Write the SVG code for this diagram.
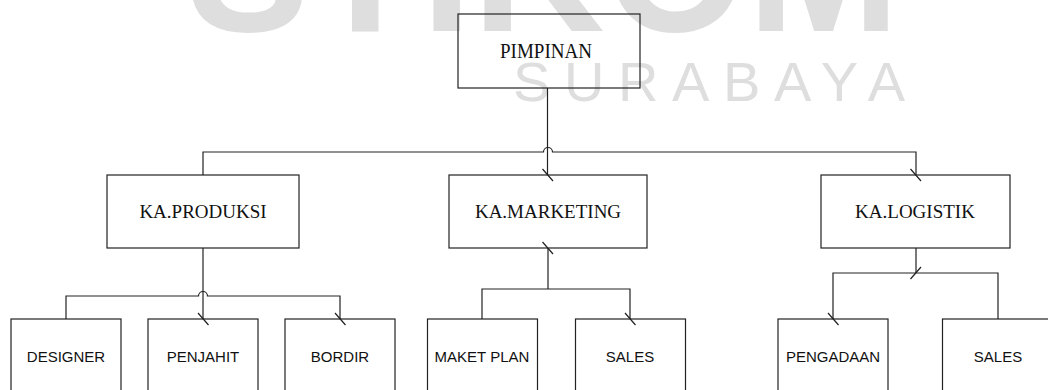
<svg xmlns="http://www.w3.org/2000/svg" width="1048" height="390" viewBox="0 0 1048 390">
<style>
.box{fill:none;stroke:#222;stroke-width:1.2}
.ln{fill:none;stroke:#222;stroke-width:1.2}
.tk{stroke:#222;stroke-width:1.2}
.ser{font-family:"Liberation Serif","Times New Roman",serif;fill:#111;text-anchor:middle}
.san{font-family:"Liberation Sans",Arial,sans-serif;font-size:15px;fill:#111;text-anchor:middle}
.wm{font-family:"Liberation Sans",Arial,sans-serif;fill:#dedede}
</style>
<rect width="1048" height="390" fill="#fff"/>
<g id="watermark">
<text class="wm" x="187" y="31" font-size="190" font-weight="bold" textLength="713" lengthAdjust="spacingAndGlyphs">STIKOM</text>
<text class="wm" x="513" y="101" font-size="56" font-weight="300" fill="#e4e4e4" textLength="392" lengthAdjust="spacing">SURABAYA</text>
</g>
<g id="connectors">
<path class="ln" d="M547.5,88 V175"/>
<path class="ln" d="M203,175 V152 H543.5 A4.5,4.5 0 0 1 552.5,152 H916 V175"/>
<path class="ln" d="M203,248 V319"/>
<path class="ln" d="M66,319 V296 H198.5 A4.5,4.5 0 0 1 207.5,296 H340 V319"/>
<path class="ln" d="M548,248 V289 M482,319 V289 H630 V319"/>
<path class="ln" d="M916,248 V273 M833,319 V273 H998 V319"/>
<path class="tk" d="M542.5,169 L553,181 M910.5,169 L921,181 M542.5,242 L553,254 M198,313 L208.5,325 M335,313 L345.5,325 M625,313 L635.5,325 M828,313 L838.5,325 M910.5,279 L921,267"/>
</g>
<g id="pimpinan"><rect class="box" x="458" y="14" width="182" height="74"/><text class="ser" x="546" y="58" font-size="20" textLength="92" lengthAdjust="spacingAndGlyphs">PIMPINAN</text></g>
<g id="ka-produksi"><rect class="box" x="107" y="175" width="192" height="73"/><text class="ser" x="203" y="218" font-size="19">KA.PRODUKSI</text></g>
<g id="ka-marketing"><rect class="box" x="449" y="175" width="198" height="73"/><text class="ser" x="548" y="218" font-size="19">KA.MARKETING</text></g>
<g id="ka-logistik"><rect class="box" x="821" y="175" width="189" height="73"/><text class="ser" x="915" y="218" font-size="19">KA.LOGISTIK</text></g>
<g id="designer"><rect class="box" x="11" y="319" width="110" height="80"/><text class="san" x="66" y="362">DESIGNER</text></g>
<g id="penjahit"><rect class="box" x="148" y="319" width="110" height="80"/><text class="san" x="203" y="362">PENJAHIT</text></g>
<g id="bordir"><rect class="box" x="285" y="319" width="110" height="80"/><text class="san" x="340" y="362">BORDIR</text></g>
<g id="maket-plan"><rect class="box" x="427.5" y="319" width="110" height="80"/><text class="san" x="482" y="362">MAKET PLAN</text></g>
<g id="sales-marketing"><rect class="box" x="575.5" y="319" width="110" height="80"/><text class="san" x="630" y="362">SALES</text></g>
<g id="pengadaan"><rect class="box" x="778" y="319" width="110" height="80"/><text class="san" x="833" y="362">PENGADAAN</text></g>
<g id="sales-logistik"><rect class="box" x="942.5" y="319" width="110" height="80"/><text class="san" x="998" y="362">SALES</text></g>
</svg>
